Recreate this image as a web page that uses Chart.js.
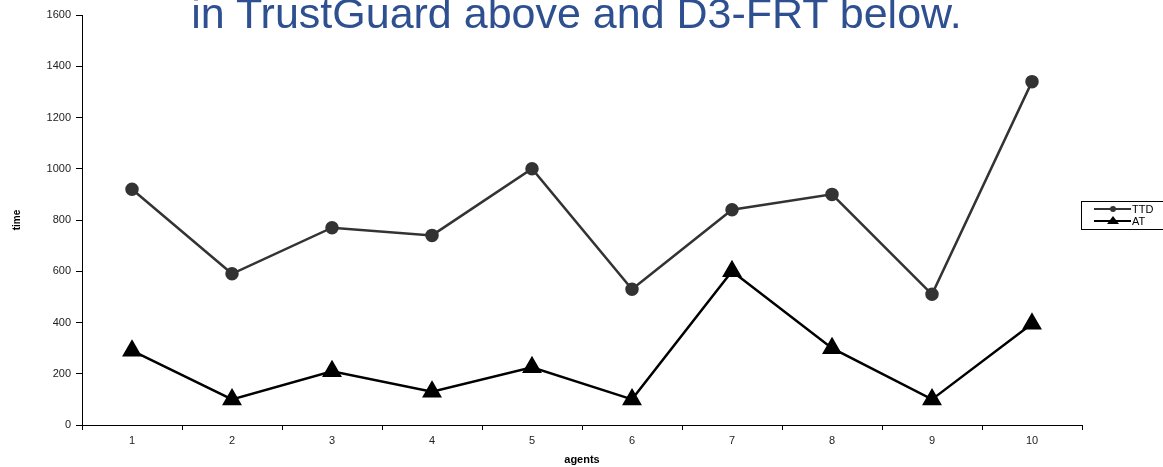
<!DOCTYPE html>
<html>
<head>
<meta charset="utf-8">
<script src="https://cdn.jsdelivr.net/npm/chart.js@4"></script>
<style>
  html, body { margin: 0; padding: 0; background: #fff; }
  #wrap { position: relative; width: 1163px; height: 467px; overflow: hidden; }
  #titulo {
    position: absolute; left: 0; width: 1163px; top: -11px; text-align: center;
    font-family: "Liberation Sans", Arial, sans-serif; font-size: 43px; line-height: normal;
    color: #2E5090; white-space: nowrap; padding-right: 10px; box-sizing: border-box;
  }
</style>
</head>
<body>
<div id="wrap">
  <canvas id="myChart" width="1163" height="467"></canvas>
  <div id="titulo">in TrustGuard above and D3-FRT below.</div>
</div>
<script>
// Datos
const agentes = ["1", "2", "3", "4", "5", "6", "7", "8", "9", "10"]
const ttd = [920, 590, 770, 740, 1000, 530, 840, 900, 510, 1340]
const at = [290, 100, 210, 130, 225, 100, 600, 300, 100, 395]
const yTicks = [0, 200, 400, 600, 800, 1000, 1200, 1400, 1600]

const fuente = "'Liberation Sans', Arial, sans-serif"

// Leyenda dibujada a mano (caja a la derecha)
const leyendaPlugin = {
    id: 'leyenda',
    afterDraw(chart) {
        const ctx = chart.ctx
        const x0 = 1081, y0 = 201
        ctx.save()
        ctx.strokeStyle = '#000'
        ctx.lineWidth = 1
        ctx.strokeRect(x0 + 0.5, y0 + 0.5, 100, 28)
        ctx.font = '11px ' + fuente
        ctx.textBaseline = 'middle'
        chart.data.datasets.forEach((ds, i) => {
            const y = y0 + 8 + i * 12
            ctx.strokeStyle = ds.borderColor
            ctx.lineWidth = 2
            ctx.beginPath()
            ctx.moveTo(x0 + 13, y)
            ctx.lineTo(x0 + 50, y)
            ctx.stroke()
            ctx.fillStyle = ds.pointBackgroundColor
            ctx.beginPath()
            if (ds.pointStyle === 'triangle') {
                ctx.moveTo(x0 + 32, y - 5)
                ctx.lineTo(x0 + 38, y + 3)
                ctx.lineTo(x0 + 26, y + 3)
            } else {
                ctx.arc(x0 + 32, y, 3, 0, Math.PI * 2)
            }
            ctx.fill()
            ctx.fillStyle = '#000'
            ctx.fillText(ds.label, x0 + 51, y + 1)
        })
        ctx.restore()
    }
}

const ctx = document.querySelector("#myChart").getContext("2d")

new Chart(ctx, {
    type: 'line',
    data: {
        labels: agentes,
        datasets: [
            {
                label: 'TTD',
                data: ttd,
                borderColor: '#333333',
                backgroundColor: '#333333',
                pointBackgroundColor: '#333333',
                pointBorderColor: '#333333',
                borderWidth: 2.5,
                pointStyle: 'circle',
                pointRadius: 5.5,
                tension: 0
            },
            {
                label: 'AT',
                data: at,
                borderColor: '#000000',
                backgroundColor: '#000000',
                pointBackgroundColor: '#000000',
                pointBorderColor: '#000000',
                borderWidth: 2.5,
                pointStyle: 'triangle',
                pointRadius: 9,
                tension: 0
            }
        ]
    },
    options: {
        responsive: false,
        animation: false,
        layout: { padding: { top: 15, right: 81, left: 0, bottom: 0 } },
        plugins: {
            legend: { display: false },
            tooltip: { enabled: false }
        },
        scales: {
            x: {
                offset: true,
                grid: { offset: true, drawOnChartArea: false, drawTicks: true, tickLength: 5, color: '#000' },
                border: { color: '#000', width: 1 },
                ticks: { color: '#222', font: { size: 11, family: fuente }, padding: 4, maxRotation: 0 },
                title: { display: true, text: 'agents', color: '#000', font: { size: 11, weight: 'bold', family: fuente }, padding: { top: 2, bottom: 0 } },
                afterFit: (scale) => { scale.height = 42 }
            },
            y: {
                min: 0,
                max: 1600,
                afterBuildTicks: (scale) => { scale.ticks = yTicks.map(v => ({ value: v })) },
                grid: { drawOnChartArea: false, drawTicks: true, tickLength: 6, color: '#000' },
                border: { color: '#000', width: 1 },
                ticks: { color: '#222', font: { size: 11, family: fuente }, padding: 5, callback: (v) => String(v) },
                title: { display: true, text: 'time', color: '#000', font: { size: 10, weight: 'bold', family: fuente }, padding: { top: 11, bottom: 0 } },
                afterFit: (scale) => { scale.width = 82 }
            }
        }
    },
    plugins: [leyendaPlugin]
})
</script>
</body>
</html>
